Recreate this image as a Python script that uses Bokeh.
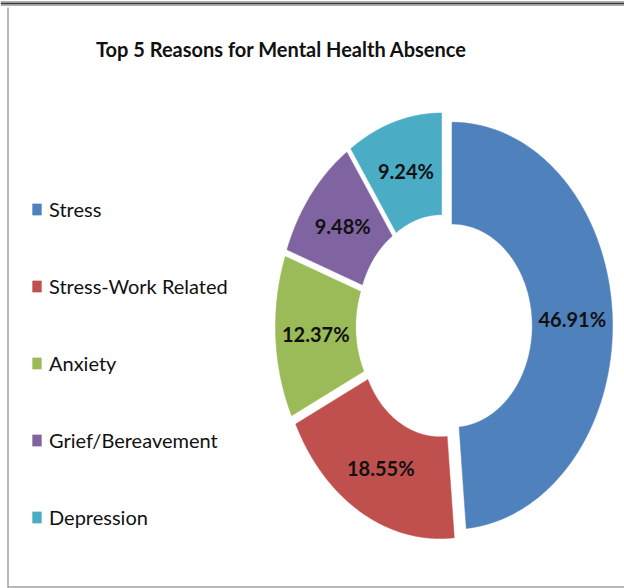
import numpy as np
from bokeh.plotting import figure
from bokeh.models import Range1d, ColumnDataSource, Legend, LegendItem, Label
from bokeh.core.properties import value
from bokeh.embed import file_html
from bokeh.resources import INLINE

# ---- data ----
categories = ["Stress", "Stress-Work Related", "Anxiety", "Grief/Bereavement", "Depression"]
percentages = [46.91, 18.55, 12.37, 9.48, 9.24]
labels = ["46.91%", "18.55%", "12.37%", "9.48%", "9.24%"]
colors = ["#4F81BD", "#C0504D", "#9BBB59", "#8064A2", "#4BACC6"]

# ---- layout constants ----
W, H = 624, 588
cx_px, cy_px = 443.5, 325.7      # pie centre in px (from top-left of figure)
rx_px, ry_px = 160.5, 203.5      # outer radius in px (horizontal / vertical)
inner = 0.5
explode = 0.05

x0 = -cx_px / rx_px
x1 = (W - cx_px) / rx_px
y0 = -(H - cy_px) / ry_px
y1 = cy_px / ry_px

p = figure(width=W, height=H, output_backend="svg", toolbar_location=None,
           x_range=Range1d(x0, x1), y_range=Range1d(y0, y1),
           min_border=0, outline_line_color=None)
p.axis.visible = False
p.grid.visible = False
p.background_fill_color = "white"

vals = np.array(percentages, dtype=float)
frac = vals / vals.sum()
cum = np.concatenate([[0.0], np.cumsum(frac)]) * 2 * np.pi

xs, ys, lx, ly = [], [], [], []
for i in range(len(vals)):
    a0, a1 = cum[i], cum[i + 1]
    mid = 0.5 * (a0 + a1)
    ox, oy = explode * np.sin(mid), explode * np.cos(mid)
    t = np.linspace(a0, a1, 120)
    outer_x = np.sin(t)
    outer_y = np.cos(t)
    inner_x = inner * np.sin(t[::-1])
    inner_y = inner * np.cos(t[::-1])
    xs.append(list(np.concatenate([outer_x, inner_x]) + ox))
    ys.append(list(np.concatenate([outer_y, inner_y]) + oy))
    rm = (1 + inner) / 2
    lx.append(rm * np.sin(mid) + ox)
    ly.append(rm * np.cos(mid) + oy)

src = ColumnDataSource(dict(xs=xs, ys=ys, color=colors, cat=categories))
r = p.patches("xs", "ys", source=src, fill_color="color", line_color="color", line_width=0.5)

lsrc = ColumnDataSource(dict(x=lx, y=ly, text=labels))
p.text("x", "y", text="text", source=lsrc, text_align="center", text_baseline="middle",
       text_font=value("Lato"), text_font_style="bold", text_font_size="20px", text_color="#111111")

items = [LegendItem(label=c, renderers=[r], index=i) for i, c in enumerate(categories)]
legend = Legend(items=items, location=(31, 59), orientation="vertical",
                spacing=53, padding=0, margin=0, glyph_width=11, glyph_height=14,
                label_height=20, label_standoff=7, border_line_color=None,
                background_fill_alpha=0, label_text_font="Lato",
                label_text_font_size="20px", label_text_color="#111111",
                label_text_baseline="middle")
p.add_layout(legend)

title = Label(x=281, y=H - 48, x_units="screen", y_units="screen",
              text="Top 5 Reasons for Mental Health Absence",
              text_align="center", text_baseline="middle",
              text_font="Lato", text_font_style="bold", text_font_size="20px",
              text_color="#111111")
p.add_layout(title)

# frame lines
def dx(px):
    return x0 + px / rx_px

def dy(px_from_top):
    return y1 - px_from_top / ry_px

p.segment(x0=[dx(7.5), dx(7)], y0=[dy(7), dy(586.5)], x1=[dx(7.5), dx(W)], y1=[dy(587), dy(586.5)],
          line_color="#A0A0A0", line_width=1.5)
p.segment(x0=[dx(0)], y0=[dy(3)], x1=[dx(W)], y1=[dy(3)], line_color="#3A3A3A", line_width=2)
p.segment(x0=[dx(0), dx(0)], y0=[dy(1), dy(5)], x1=[dx(W), dx(W)], y1=[dy(1), dy(5)],
          line_color="#B0B0B0", line_width=1)

open("out.html", "w").write(file_html(p, INLINE))
